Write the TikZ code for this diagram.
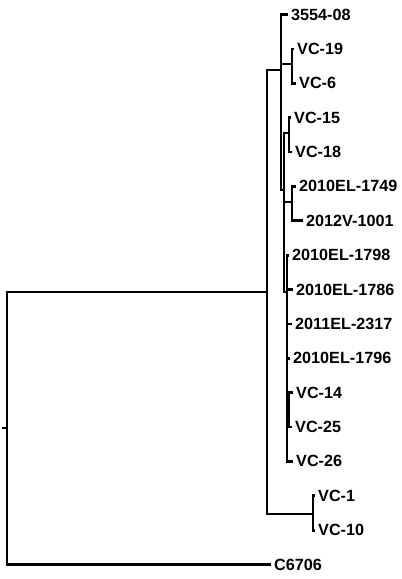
\documentclass[tikz,border=0pt]{standalone}
\usepackage{fontspec}
\setmainfont{Liberation Sans}
\begin{document}
\tikzset{
  branch/.style={line width=2.8pt, line cap=rect, line join=miter},
  leaf/.style={anchor=west, inner xsep=4pt, inner ysep=0pt, font=\fontsize{16.2}{19}\selectfont\bfseries}
}
\begin{tikzpicture}[x=1pt,y=-1pt]
\useasboundingbox (0,0) rectangle (402,579);
% internal nodes
\coordinate (r0) at (3,428);
\coordinate (R) at (7,428);
\coordinate (A) at (267,292);
\coordinate (B) at (281,70);
\coordinate (E) at (313,514);
\coordinate (F) at (292,64);
\coordinate (C) at (284,190);
\coordinate (G) at (289,133);
\coordinate (H) at (292,202);
\coordinate (D) at (287,292);
\coordinate (K) at (288.5,410);
% leaves
\node[leaf] (L0) at (287,14.5) {3554-08};
\node[leaf] (L1) at (293,48.9) {VC-19};
\node[leaf] (L2) at (295,83.25) {VC-6};
\node[leaf] (L3) at (290,117.6) {VC-15};
\node[leaf] (L4) at (291,152) {VC-18};
\node[leaf] (L5) at (295,186.4) {2010EL-1749};
\node[leaf] (L6) at (302,220.75) {2012V-1001};
\node[leaf] (L7) at (288,255.1) {2010EL-1798};
\node[leaf] (L8) at (292,289.5) {2010EL-1786};
\node[leaf] (L9) at (291,323.9) {2011EL-2317};
\node[leaf] (L10) at (289,358.25) {2010EL-1796};
\node[leaf] (L11) at (292,392.6) {VC-14};
\node[leaf] (L12) at (291,427) {VC-25};
\node[leaf] (L13) at (292,461.4) {VC-26};
\node[leaf] (L14) at (314,495.75) {VC-1};
\node[leaf] (L15) at (314,530.1) {VC-10};
\node[leaf] (L16) at (270,564.5) {C6706};
% branches
\draw[branch] (r0) -- (R);
\draw[branch] (R) |- (A);
\draw[branch] (R) |- (L16.west);
\draw[branch] (A) |- (B);
\draw[branch] (A) |- (E);
\draw[branch] (E) |- (L14.west);
\draw[branch] (E) |- (L15.west);
\draw[branch] (B) |- (L0.west);
\draw[branch] (B) |- (F);
\draw[branch] (B) |- (C);
\draw[branch] (F) |- (L1.west);
\draw[branch] (F) |- (L2.west);
\draw[branch] (C) |- (G);
\draw[branch] (C) |- (H);
\draw[branch] (C) |- (D);
\draw[branch] (G) |- (L3.west);
\draw[branch] (G) |- (L4.west);
\draw[branch] (H) |- (L5.west);
\draw[branch] (H) |- (L6.west);
\draw[branch] (D) |- (L7.west);
\draw[branch] (D) |- (L8.west);
\draw[branch] (D) |- (L9.west);
\draw[branch] (D) |- (L10.west);
\draw[branch] (D) |- (K);
\draw[branch] (D) |- (L13.west);
\draw[branch] (K) |- (L11.west);
\draw[branch] (K) |- (L12.west);
\end{tikzpicture}
\end{document}
